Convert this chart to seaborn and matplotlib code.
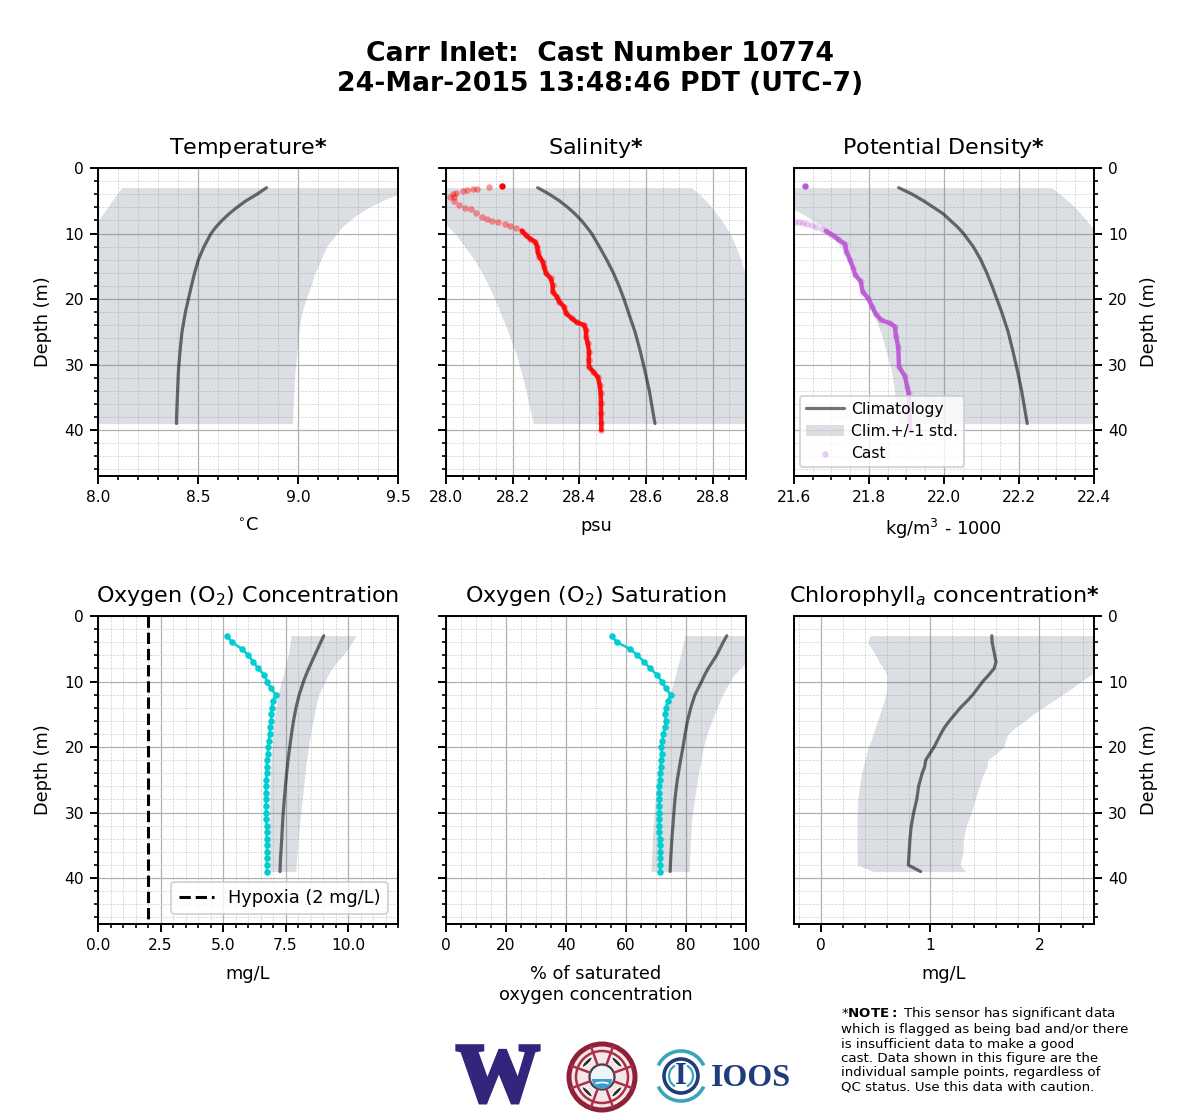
import numpy as np
import matplotlib
matplotlib.use("Agg")
import matplotlib.pyplot as plt
import matplotlib.patheffects as pe
from matplotlib.patches import Arc, Circle, Ellipse, Wedge
from matplotlib.ticker import AutoMinorLocator, MultipleLocator
import seaborn as sns

# ── data ─────────────────────────────────────────────────
clim_depth = [3, 4, 5, 6, 7, 8, 9, 10, 12, 14, 16, 18, 20, 22, 25, 28, 31, 34, 37, 39]

temp_clim = [8.843, 8.795, 8.74, 8.695, 8.655, 8.62, 8.59, 8.565, 8.53, 8.502,
             8.483, 8.467, 8.452, 8.437, 8.42, 8.41, 8.402, 8.398, 8.394, 8.392]
temp_hi = [9.7, 9.5, 9.42, 9.355, 9.30, 9.26, 9.22, 9.195, 9.143, 9.115,
           9.085, 9.065, 9.04, 9.02, 9.003, 8.995, 8.985, 8.98, 8.975, 8.973]
temp_lo = [8.118, 8.094, 8.07, 8.047, 8.024, 8.0, 7.98, 7.95, 7.92, 7.9,
           7.87, 7.85, 7.83, 7.8, 7.78, 7.76, 7.74, 7.72, 7.7, 7.68]

sal_clim = [28.275, 28.31, 28.34, 28.365, 28.387, 28.406, 28.422, 28.437, 28.46, 28.482,
            28.502, 28.519, 28.534, 28.547, 28.567, 28.583, 28.597, 28.61, 28.62, 28.627]
sal_hi = [28.737, 28.76, 28.78, 28.797, 28.812, 28.827, 28.84, 28.852, 28.87, 28.885,
          28.897, 28.915, 28.93, 28.95, 28.97, 28.99, 29.0, 29.02, 29.04, 29.05]
sal_lo = [27.9, 27.92, 27.94, 27.96, 27.98, 27.995, 28.007, 28.027, 28.056, 28.085,
          28.108, 28.128, 28.146, 28.162, 28.186, 28.208, 28.225, 28.24, 28.253, 28.262]

sal_cast_depth = [2.75, 2.95, 3.15, 3.26, 3.41, 3.51, 3.76, 3.97, 4.37, 4.48, 4.98, 5.7, 6.05,
                  6.31, 6.82, 7.43, 7.83, 8.14, 8.29, 8.55, 8.85, 9.21, 9.56, 10.27, 10.78,
                  11.24, 12.0, 12.77, 13.53, 14.29, 15.06, 16.07, 16.84, 17.85, 18.87, 19.63,
                  20.4, 21.16, 22.18, 22.94, 23.55, 23.96, 24.72, 25.74, 26.75, 28.03, 29.3,
                  30.32, 31.08, 31.94, 33.11, 34.38, 35.91, 37.44, 38.96, 39.98]
sal_cast = [28.167, 28.130, 28.092, 28.082, 28.064, 28.050, 28.030, 28.022, 28.012, 28.024,
            28.024, 28.040, 28.057, 28.074, 28.090, 28.107, 28.122, 28.137, 28.157, 28.177,
            28.192, 28.210, 28.227, 28.240, 28.252, 28.267, 28.274, 28.275, 28.280, 28.290,
            28.294, 28.300, 28.314, 28.320, 28.320, 28.332, 28.340, 28.354, 28.360, 28.377,
            28.392, 28.414, 28.420, 28.420, 28.425, 28.429, 28.428, 28.429, 28.442, 28.456,
            28.461, 28.464, 28.465, 28.465, 28.466, 28.466]

dens_clim = [21.879, 21.915, 21.945, 21.972, 21.998, 22.017, 22.036, 22.052, 22.078, 22.098,
             22.114, 22.128, 22.141, 22.154, 22.171, 22.184, 22.196, 22.207, 22.216, 22.222]
dens_hi = [22.287, 22.31, 22.33, 22.35, 22.365, 22.38, 22.395, 22.41, 22.44, 22.47,
           22.49, 22.51, 22.53, 22.55, 22.58, 22.6, 22.62, 22.64, 22.66, 22.67]
dens_lo = [21.5, 21.53, 21.56, 21.59, 21.622, 21.65, 21.676, 21.695, 21.724, 21.745,
           21.76, 21.776, 21.793, 21.81, 21.831, 21.846, 21.86, 21.868, 21.875, 21.878]

dens_cast_depth = [2.75, 8.19, 8.24, 8.34, 8.5, 8.7, 8.97, 9.3, 9.62, 10.0, 10.4, 10.9, 11.6,
                   12.8, 14.0, 15.3, 16.3, 17.3, 18.9, 19.9, 21.2, 22.3, 23.2, 23.7, 24.2,
                   25.7, 27.3, 30.3, 31.8, 33.4, 34.4, 37.4, 40.0]
dens_cast = [21.63, 21.603, 21.613, 21.625, 21.636, 21.647, 21.66, 21.674, 21.685, 21.696,
             21.707, 21.718, 21.736, 21.74, 21.749, 21.758, 21.763, 21.778, 21.783, 21.798,
             21.809, 21.818, 21.833, 21.856, 21.869, 21.872, 21.878, 21.88, 21.896, 21.902,
             21.906, 21.908, 21.91]

o2_clim = [9.03, 8.91, 8.79, 8.67, 8.55, 8.43, 8.32, 8.22, 8.05, 7.92,
           7.82, 7.74, 7.67, 7.6, 7.52, 7.45, 7.39, 7.35, 7.3, 7.28]
o2_hi = [10.32, 10.17, 10.0, 9.8, 9.56, 9.36, 9.2, 9.08, 8.83, 8.7,
         8.6, 8.5, 8.42, 8.34, 8.25, 8.17, 8.08, 8.01, 7.95, 7.91]
o2_lo = [7.72, 7.69, 7.65, 7.61, 7.53, 7.47, 7.41, 7.33, 7.2, 7.11,
         7.04, 7.0, 6.96, 6.92, 6.88, 6.85, 6.84, 6.84, 6.85, 6.85]

o2_cast_depth = [3, 4, 5, 6, 7, 8, 9, 10, 11, 12, 13, 14, 15, 16, 17, 18, 19, 20, 21, 22, 23,
                 24, 25, 26, 27, 28, 29, 30, 31, 32, 33, 34, 35, 36, 37, 38, 39]
o2_cast = [5.17, 5.35, 5.75, 6.01, 6.21, 6.41, 6.65, 6.77, 6.91, 7.11, 6.99, 6.95, 6.93, 6.93,
           6.89, 6.87, 6.83, 6.81, 6.79, 6.76, 6.75, 6.75, 6.72, 6.72, 6.72, 6.72, 6.72, 6.72,
           6.72, 6.75, 6.75, 6.75, 6.76, 6.76, 6.76, 6.76, 6.76]

sat_clim = [93.6, 92.4, 91.3, 90.2, 88.8, 87.4, 86.2, 85.2, 83, 81.6,
            80.5, 79.7, 79.0, 78.2, 77.1, 76.3, 75.8, 75.3, 74.9, 74.7]
sat_hi = [109, 107.5, 105, 103, 100.5, 98, 96, 94.6, 92.2, 90.4,
          88.6, 87, 85.8, 85, 83.8, 82.8, 81.9, 81.5, 81.2, 81.1]
sat_lo = [79.7, 79.2, 78.6, 78.1, 77.6, 77, 76.5, 75.9, 74.6, 73.5,
          72.8, 72, 71.5, 71, 70.3, 69.7, 69.2, 68.8, 68.5, 68.3]
sat_cast = [55.2, 56.9, 61.3, 63.8, 66.1, 68, 70.4, 71.9, 73.2, 74.9, 73.9, 73.3, 73.1, 73.2,
            73.1, 72.4, 72.1, 71.8, 71.9, 71.7, 71.6, 71.4, 71.2, 71.1, 71.1, 71.1, 71.1, 71.1,
            71.1, 71.1, 71.1, 71.2, 71.3, 71.4, 71.4, 71.4, 71.4]

chl_depth = [3, 4, 5, 6, 7, 8, 9, 10, 11, 12, 13, 14, 15, 16, 17, 18, 19, 20, 21, 22, 23, 24,
             26, 28, 30, 32, 34, 36, 38, 39]
chl_clim = [1.563, 1.566, 1.578, 1.59, 1.602, 1.585, 1.535, 1.48, 1.435, 1.39, 1.335, 1.275,
            1.225, 1.175, 1.13, 1.095, 1.065, 1.034, 0.995, 0.957, 0.948, 0.925, 0.892, 0.875,
            0.847, 0.825, 0.813, 0.806, 0.798, 0.911]
chl_hi = [3.0, 2.95, 2.85, 2.75, 2.65, 2.55, 2.47, 2.38, 2.3, 2.21, 2.12, 2.03, 1.94, 1.87,
          1.78, 1.71, 1.69, 1.67, 1.6, 1.525, 1.52, 1.49, 1.45, 1.41, 1.375, 1.33, 1.303, 1.3,
          1.272, 1.324]
chl_lo = [0.446, 0.425, 0.46, 0.5, 0.53, 0.57, 0.6, 0.6, 0.6, 0.59, 0.575, 0.555, 0.535, 0.515,
          0.495, 0.475, 0.455, 0.431, 0.415, 0.4, 0.385, 0.37, 0.35, 0.335, 0.33, 0.327, 0.327,
          0.328, 0.33, 0.477]

depth_ticks = [0, 10, 20, 30, 40]
temp_ticks = [8.0, 8.5, 9.0, 9.5]
sal_ticks = [28.0, 28.2, 28.4, 28.6, 28.8]
dens_ticks = [21.6, 21.8, 22.0, 22.2, 22.4]
o2_ticks = [0.0, 2.5, 5.0, 7.5, 10.0]
sat_ticks = [0, 20, 40, 60, 80, 100]
chl_ticks = [0, 1, 2]
hypoxia = [2, 2]
hypoxia_depth = [0, 47]

# ── style ───────────────────────────────────────────────
sns.set_style("ticks")
plt.rcParams["font.family"] = ["DejaVu Sans"]
plt.rcParams["mathtext.default"] = "it"
plt.rcParams["text.color"] = "k"
plt.rcParams["axes.labelcolor"] = "k"
plt.rcParams["axes.titlecolor"] = "k"
plt.rcParams["xtick.color"] = "k"
plt.rcParams["ytick.color"] = "k"

W, H = 1200, 1120
fig = plt.figure(figsize=(6, 5.6), dpi=200)

CLIM_KW = dict(color="k", alpha=0.55, linewidth=1.15, sort=False, estimator=None, orient="y")
FILL = dict(color="slategray", alpha=0.25, linewidth=0)


def make_axes(left, top, xlim, ticks, minor, title, xlabel, fmt=None, side=None):
    ax = fig.add_axes([left / W, 1 - (top + 308) / H, 300 / W, 308 / H])
    ax.set_xlim(*xlim)
    ax.set_ylim(47, 0)
    ax.set_xticks(ticks)
    if fmt:
        ax.set_xticklabels([fmt % t for t in ticks])
    ax.xaxis.set_minor_locator(AutoMinorLocator(minor))
    ax.yaxis.set_major_locator(MultipleLocator(10))
    ax.yaxis.set_minor_locator(MultipleLocator(2))
    ax.grid(which="major", color="#b0b0b0", linewidth=0.45)
    ax.grid(which="minor", color="#cfcfcf", linewidth=0.25, linestyle="--")
    ax.set_axisbelow(True)
    ax.tick_params(which="major", labelsize=5.6, length=2.8, width=0.7, pad=2.2)
    ax.tick_params(which="minor", length=1.6, width=0.6)
    for s in ax.spines.values():
        s.set_linewidth(0.7)
        s.set_color("k")
    ax.set_title(title, fontsize=8, pad=5)
    ax.set_xlabel(xlabel, fontsize=6.4, labelpad=4.2, linespacing=1.22)
    ax.set_ylabel("")
    ax.set_yticks(depth_ticks)
    if side == "left":
        ax.set_ylabel("Depth (m)", fontsize=6.4, labelpad=4.5)
    elif side == "right":
        ax.yaxis.tick_right()
        ax.yaxis.set_label_position("right")
        ax.set_ylabel("Depth (m)", fontsize=6.4, labelpad=4.5)
    else:
        ax.tick_params(which="both", labelleft=False)
    return ax


def draw_clim(ax, depth, clim, lo, hi):
    sns.lineplot(x=clim, y=depth, ax=ax, label="Climatology", legend=False, **CLIM_KW)
    ax.fill_betweenx(depth, lo, hi, label="Clim.+/-1 std.", **FILL)


def draw_ctd(ax, depth, vals, color, cut, pale):
    # thin sampling near the surface stays pale, deep samples overlap to a solid band
    depth = np.array(depth)
    vals = np.array(vals)
    deep = depth >= cut
    sns.scatterplot(x=vals, y=depth, ax=ax, color=color, s=5.5, alpha=pale, linewidth=0,
                    label="Cast", legend=False)
    sns.lineplot(x=vals[deep], y=depth[deep], ax=ax, color=color, linewidth=1.6, alpha=0.9,
                 sort=False, estimator=None, orient="y", legend=False)
    sns.scatterplot(x=vals[:1], y=depth[:1], ax=ax, color=color, s=5, linewidth=0, legend=False)


def draw_bottle(ax, depth, vals):
    sns.lineplot(x=vals, y=depth, ax=ax, color="darkturquoise", linewidth=0.9, sort=False,
                 estimator=None, orient="y", legend=False)
    sns.scatterplot(x=vals, y=depth, ax=ax, color="darkturquoise", s=5.5, linewidth=0, legend=False)


# ── top row ─────────────────────────────────────────────
ax = make_axes(98, 168, (8.0, 9.5), temp_ticks, 5, "Temperature$\\bf{*}$", "$^{\\circ}$C", "%.1f", "left")
draw_clim(ax, clim_depth, temp_clim, temp_lo, temp_hi)

ax = make_axes(446, 168, (28.0, 28.9), sal_ticks, 4, "Salinity$\\bf{*}$", "psu", "%.1f")
draw_clim(ax, clim_depth, sal_clim, sal_lo, sal_hi)
draw_ctd(ax, sal_cast_depth, sal_cast, "red", 9.5, 0.4)

ax = make_axes(794, 168, (21.6, 22.4), dens_ticks, 4, "Potential Density$\\bf{*}$",
               "kg/m$^3$ - 1000", "%.1f", "right")
draw_clim(ax, clim_depth, dens_clim, dens_lo, dens_hi)
draw_ctd(ax, dens_cast_depth, dens_cast, "mediumorchid", 9.5, 0.3)
leg = ax.legend(loc="lower left", fontsize=5.6, borderaxespad=0.58, labelspacing=0.45,
                handlelength=2.4, handletextpad=0.5, bbox_to_anchor=(-0.01, 0.0))
leg.get_frame().set_linewidth(0.7)

# ── bottom row ──────────────────────────────────────────
ax = make_axes(98, 616, (0, 12), o2_ticks, 5, "Oxygen (O$_2$) Concentration", "mg/L", "%.1f", "left")
draw_clim(ax, clim_depth, o2_clim, o2_lo, o2_hi)
draw_bottle(ax, o2_cast_depth, o2_cast)
sns.lineplot(x=hypoxia, y=hypoxia_depth, ax=ax, color="k", linewidth=1.1, linestyle="--",
             sort=False, estimator=None, orient="y", label="Hypoxia (2 mg/L)", legend=False)
hyp = [h for h in ax.get_lines() if h.get_label() == "Hypoxia (2 mg/L)"]
leg = ax.legend(handles=hyp, loc="lower right", fontsize=6.4, borderaxespad=0.56)
leg.get_frame().set_linewidth(0.7)

ax = make_axes(446, 616, (0, 100), sat_ticks, 4, "Oxygen (O$_2$) Saturation",
               "% of saturated\noxygen concentration")
draw_clim(ax, clim_depth, sat_clim, sat_lo, sat_hi)
draw_bottle(ax, o2_cast_depth, sat_cast)

ax = make_axes(794, 616, (-0.25, 2.5), chl_ticks, 5, "Chlorophyll$_a$ concentration$\\bf{*}$",
               "mg/L", None, "right")
draw_clim(ax, chl_depth, chl_clim, chl_lo, chl_hi)

# ── header + note ───────────────────────────────────────
fig.text(0.5, 1 - 69 / H, "Carr Inlet:  Cast Number 10774\n24-Mar-2015 13:48:46 PDT (UTC-7)",
         ha="center", va="center", fontsize=9.6, fontweight="bold", linespacing=1.24)

note = ("*$\\bf{NOTE:}$ This sensor has significant data\n"
        "which is flagged as being bad and/or there\n"
        "is insufficient data to make a good\n"
        "cast. Data shown in this figure are the\n"
        "individual sample points, regardless of\n"
        "QC status. Use this data with caution.")
fig.text(841 / W, 1 - 1005 / H, note, ha="left", va="top", fontsize=4.8, linespacing=1.13)

# ── logos (drawn on an overlay in pixel coords) ─────────
lg = fig.add_axes([0, 0, 1, 1], facecolor="none")
lg.set_xlim(0, W)
lg.set_ylim(H, 0)
lg.axis("off")

lg.text(498, 1101, "W", family="Liberation Serif", fontweight="bold", fontsize=30,
        color="#32267c", ha="center", va="baseline",
        path_effects=[pe.withStroke(linewidth=1.6, foreground="#32267c", joinstyle="miter")])

red = "#a8324a"
lg.add_patch(Ellipse((602, 1077), 66, 66, fc="#f6e6e8", ec="#8e2138", lw=1.8))
lg.add_patch(Ellipse((602, 1077), 52, 52, fc="none", ec=red, lw=0.9))
for a in [20, 70, 110, 160, 200, 250, 290, 340]:
    th = np.deg2rad(a)
    lg.plot([602 + 13 * np.cos(th), 602 + 32 * np.cos(th)],
            [1077 + 13 * np.sin(th), 1077 + 32 * np.sin(th)], color=red, lw=0.9)
for a in [45, 135, 225, 315]:
    th = np.deg2rad(a)
    cx, cy = 602 + 21 * np.cos(th), 1077 + 21 * np.sin(th)
    lg.add_patch(Ellipse((cx, cy), 14, 4, angle=a + 90, fc="#2e2e2e", ec="white", lw=0.4))
lg.add_patch(Circle((602, 1077), 12.5, fc="#eef4f8", ec="#40404a", lw=0.8))
lg.add_patch(Wedge((602, 1079), 10, 0, 180, fc="#3f9ccc", ec="none"))
lg.add_patch(Arc((602, 1086), 18, 7, theta1=200, theta2=340, ec="white", lw=0.6))

teal = "#3aa6b9"
navy = "#1f3d7a"
lg.add_patch(Arc((681, 1076), 50, 50, theta1=205, theta2=335, ec=teal, lw=1.3))
lg.add_patch(Arc((681, 1076), 50, 50, theta1=25, theta2=155, ec=teal, lw=1.3))
lg.add_patch(Circle((681, 1076), 17, fc="none", ec=navy, lw=1.3))
lg.add_patch(Arc((681, 1076), 24, 24, theta1=120, theta2=240, ec=teal, lw=0.8))
lg.add_patch(Arc((681, 1076), 24, 24, theta1=-60, theta2=60, ec=teal, lw=0.8))
lg.text(681, 1076, "I", family="Liberation Serif", fontweight="bold", fontsize=11, color=navy,
        ha="center", va="center")
lg.text(711, 1086, "IOOS", family="Liberation Serif", fontweight="bold", fontsize=11.5,
        color=navy, ha="left", va="baseline")

fig.savefig("out.png", dpi=200)
